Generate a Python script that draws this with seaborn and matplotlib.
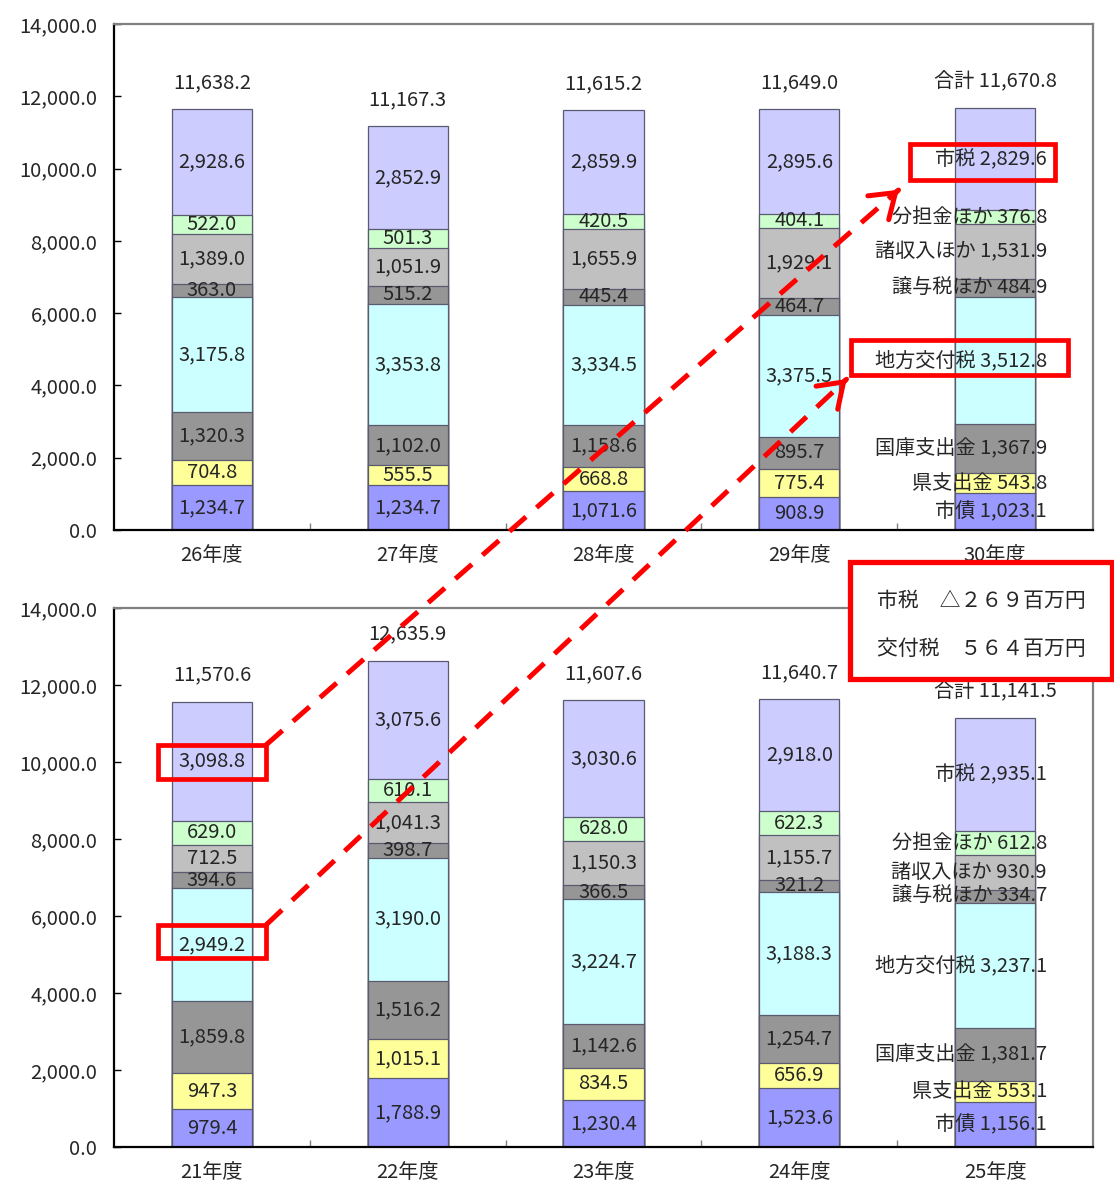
import numpy as np
import matplotlib
matplotlib.use("Agg")
import matplotlib.pyplot as plt
import seaborn as sns
from matplotlib.patches import Rectangle, FancyArrowPatch
from matplotlib.lines import Line2D

sns.set_theme(style="white")
plt.rcParams['font.family'] = ['Noto Sans CJK JP', 'DejaVu Sans']

# Revenue items, stacked from the bottom up
items = ["市債", "県支出金", "国庫支出金", "地方交付税", "譲与税ほか", "諸収入ほか", "分担金ほか", "市税"]
item_colors = ["#9999FF", "#FFFF99", "#969696", "#CCFFFF", "#969696", "#C0C0C0", "#CCFFCC", "#CCCCFF"]

# FY26-FY30 (upper panel), unit: million yen
years_recent = ["26年度", "27年度", "28年度", "29年度", "30年度"]
shisai_recent = [1234.7, 1234.7, 1071.6, 908.9, 1023.1]
ken_recent = [704.8, 555.5, 668.8, 775.4, 543.8]
kokko_recent = [1320.3, 1102.0, 1158.6, 895.7, 1367.9]
koufu_recent = [3175.8, 3353.8, 3334.5, 3375.5, 3512.8]
jouyo_recent = [363.0, 515.2, 445.4, 464.7, 484.9]
shoshu_recent = [1389.0, 1051.9, 1655.9, 1929.1, 1531.9]
buntan_recent = [522.0, 501.3, 420.5, 404.1, 376.8]
shizei_recent = [2928.6, 2852.9, 2859.9, 2895.6, 2829.6]
total_recent = [11638.2, 11167.3, 11615.2, 11649.0, 11670.8]

# FY21-FY25 (lower panel)
years_past = ["21年度", "22年度", "23年度", "24年度", "25年度"]
shisai_past = [979.4, 1788.9, 1230.4, 1523.6, 1156.1]
ken_past = [947.3, 1015.1, 834.5, 656.9, 553.1]
kokko_past = [1859.8, 1516.2, 1142.6, 1254.7, 1381.7]
koufu_past = [2949.2, 3190.0, 3224.7, 3188.3, 3237.1]
jouyo_past = [394.6, 398.7, 366.5, 321.2, 334.7]
shoshu_past = [712.5, 1041.3, 1150.3, 1155.7, 930.9]
buntan_past = [629.0, 610.1, 628.0, 622.3, 612.8]
shizei_past = [3098.8, 3075.6, 3030.6, 2918.0, 2935.1]
total_past = [11570.6, 12635.9, 11607.6, 11640.7, 11141.5]

diff_lines = ["市税\u3000△２６９百万円", "交付税\u3000５６４百万円"]

W, H = 1114, 1182
fig = plt.figure(figsize=(W / 100, H / 100), dpi=100)
FS = 14.5
BAR_W = 0.41
RED = "#FF0000"


def px_box(l, t, r, b):
    return [l / W, 1 - b / H, (r - l) / W, (b - t) / H]


ax_top = fig.add_axes(px_box(114, 24, 1093, 530))
ax_bot = fig.add_axes(px_box(114, 608, 1093, 1147))


def draw_panel(ax, years, layers, totals):
    vals = np.array(layers, dtype=float)
    cum = np.cumsum(vals, axis=0)
    # cumulative bars, tallest first, so each layer shows as a stacked segment
    for i in reversed(range(len(items))):
        sns.barplot(x=years, y=cum[i], color=item_colors[i], width=BAR_W,
                    saturation=1, edgecolor="#5a5a70", linewidth=0.9,
                    errorbar=None, ax=ax)
    n = len(years)
    for i, name in enumerate(items):
        for j in range(n):
            v = vals[i, j]
            yc = cum[i, j] - v / 2
            if j < n - 1:
                ax.text(j, yc, f"{v:,.1f}", ha="center", va="center", fontsize=FS)
            else:
                ax.text(j + 0.265, yc, f"{name} {v:,.1f}", ha="right", va="center",
                        fontsize=FS)
    for j, t in enumerate(totals):
        lab = f"{t:,.1f}" if j < n - 1 else f"合計 {t:,.1f}"
        ax.annotate(lab, xy=(j, t), xytext=(0, 19), textcoords="offset points",
                    ha="center", va="center", fontsize=FS)

    ax.set_xlim(-0.5, n - 0.5)
    ax.set_ylim(0, 14000)
    ax.set_yticks(np.arange(0, 14001, 2000))
    ax.set_yticklabels([f"{v:,.1f}" for v in np.arange(0, 14001, 2000)])
    ax.set_xticks(range(n))
    ax.set_xticklabels(years)
    ax.set_xticks(np.arange(0.5, n - 1, 1.0), minor=True)
    ax.set_xlabel("")
    ax.set_ylabel("")
    ax.tick_params(axis="y", which="major", left=True, direction="in", length=5,
                   width=1, color="black", pad=12, labelsize=FS)
    ax.tick_params(axis="x", which="major", bottom=True, length=0, pad=11, labelsize=FS)
    ax.tick_params(axis="x", which="minor", bottom=True, direction="in", length=5,
                   width=1, color="#808080")
    for s in ("left", "bottom"):
        ax.spines[s].set_color("black")
        ax.spines[s].set_linewidth(1.6)
    for s in ("top", "right"):
        ax.spines[s].set_color("#808080")
        ax.spines[s].set_linewidth(1.6)
    ax.grid(False)
    return cum


draw_panel(ax_top, years_recent,
           [shisai_recent, ken_recent, kokko_recent, koufu_recent,
            jouyo_recent, shoshu_recent, buntan_recent, shizei_recent],
           total_recent)
draw_panel(ax_bot, years_past,
           [shisai_past, ken_past, kokko_past, koufu_past,
            jouyo_past, shoshu_past, buntan_past, shizei_past],
           total_past)

# highlight frames (x0, x1, y0, y1 in data units)
frames = {
    "top_shizei": (ax_top, 3.565, 4.306, 9684, 10680),
    "top_koufu": (ax_top, 3.264, 4.372, 4288, 5257),
    "bot_shizei": (ax_bot, -0.275, 0.276, 9558, 10441),
    "bot_koufu": (ax_bot, -0.275, 0.276, 4909, 5766),
}
for ax, x0, x1, y0, y1 in frames.values():
    ax.add_patch(Rectangle((x0, y0), x1 - x0, y1 - y0, fill=False, edgecolor=RED,
                           linewidth=3.4, clip_on=False, zorder=6))

to_fig = fig.transFigure.inverted()


def link(src, dst, gap):
    axs, sx0, sx1, sy0, sy1 = frames[src]
    axd, dx0, dx1, dy0, dy1 = frames[dst]
    p0 = np.array(axs.transData.transform((sx1, sy1)))
    p1 = np.array(axd.transData.transform((dx0, dy0)))
    d = (p1 - p0) / np.linalg.norm(p1 - p0)
    tip = p1 - d * gap
    f0, f1 = to_fig.transform(p0), to_fig.transform(tip - d * 4)
    fig.add_artist(Line2D([f0[0], f1[0]], [f0[1], f1[1]], transform=fig.transFigure,
                          color=RED, linewidth=3.6, solid_capstyle="butt",
                          dash_capstyle="butt", linestyle=(0, (4.4, 2.8)), zorder=7))
    fa, fb = to_fig.transform(tip - d * 6), to_fig.transform(tip)
    fig.add_artist(FancyArrowPatch(fa, fb, transform=fig.transFigure,
                                   arrowstyle="->,head_length=0.55,head_width=0.38",
                                   mutation_scale=30, color=RED, linewidth=3.6,
                                   zorder=7))


link("bot_shizei", "top_shizei", 12)
link("bot_koufu", "top_koufu", 3)

# difference summary box
fig.add_artist(Rectangle((850 / W, 1 - 679 / H), 262 / W, 117 / H,
                         transform=fig.transFigure, facecolor="white",
                         edgecolor=RED, linewidth=3.8, zorder=8))
fig.text(877 / W, 1 - 601 / H, diff_lines[0], ha="left", va="center",
         fontsize=15, zorder=9)
fig.text(877 / W, 1 - 649 / H, diff_lines[1], ha="left", va="center",
         fontsize=15, zorder=9)

fig.savefig("out.png", dpi=100, facecolor="white")
